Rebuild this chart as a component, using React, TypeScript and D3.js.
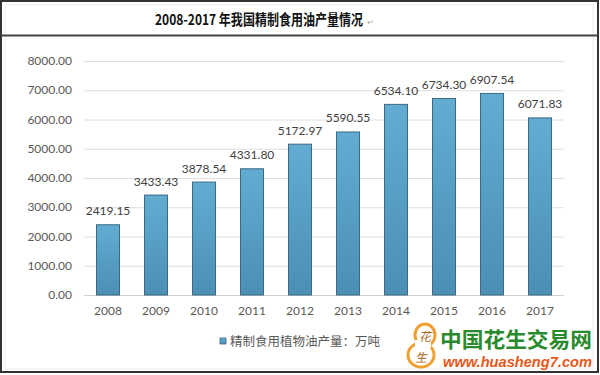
import React from "react";
import { scaleBand, scaleLinear } from "d3";

const years = ["2008", "2009", "2010", "2011", "2012", "2013", "2014", "2015", "2016", "2017"];
const output = [2419.15, 3433.43, 3878.54, 4331.8, 5172.97, 5590.55, 6534.1, 6734.3, 6907.54, 6071.83];
const yTicks = [0, 1000, 2000, 3000, 4000, 5000, 6000, 7000, 8000];
const title = "2008-2017 年我国精制食用油产量情况";
const legendLabel = "精制食用植物油产量：万吨";

const W = 600;
const H = 375;
const latin = "Lato, 'Open Sans', sans-serif";
const cjk = "'Noto Sans CJK SC', 'Noto Sans', sans-serif";

export default function App() {
  const x = scaleBand<string>().domain(years).range([84, 564]).paddingInner(0.5).paddingOuter(0.25);
  const y = scaleLinear().domain([0, 8000]).range([295, 61]);

  return (
    <svg
      width={W}
      height={H}
      style={{ position: "absolute", left: 0, top: 0, background: "#fff" }}
    >
      <defs>
        <linearGradient id="barFill" x1="0" x2="0" y1="0" y2="1">
          <stop offset="0%" stopColor="#62acd2" />
          <stop offset="100%" stopColor="#4b8fb4" />
        </linearGradient>
      </defs>

      {/* frame */}
      <rect x={5} y={5} width={588} height={364} fill="none" stroke="#ececec" />
      <rect x={1} y={1} width={597} height={371} fill="none" stroke="#333" strokeWidth={2} />
      <line x1={1} x2={598} y1={35.5} y2={35.5} stroke="#444" strokeWidth={2} />

      {/* title, with the trailing return mark */}
      <text x={155} y={25} fontFamily={cjk} fontWeight={700} fontSize={14.5} fill="#111">
        <tspan textLength={208} lengthAdjust="spacingAndGlyphs">{title}</tspan>
        <tspan x={367} fontSize={8} fontWeight={400} fill="#aaa">↵</tspan>
      </text>

      {/* grid + y labels */}
      {yTicks.map((t) => (
        <g key={t}>
          <line x1={84} x2={564} y1={y(t) + 0.5} y2={y(t) + 0.5} stroke={t === 0 ? "#d0d0d0" : "#dedede"} />
          <text
            x={72}
            y={y(t)}
            dy="0.35em"
            textAnchor="end"
            fontFamily={latin}
            fontSize={12}
            fill="#595959"
          >
            {t.toFixed(2)}
          </text>
        </g>
      ))}

      {/* bars */}
      {years.map((yr, i) => {
        const v = output[i];
        const bx = x(yr)!;
        return (
          <g key={yr}>
            <rect
              x={bx + 0.5}
              y={y(v) + 0.5}
              width={x.bandwidth() - 1}
              height={y(0) - y(v) - 0.5}
              fill="url(#barFill)"
              stroke="#3a6a85"
              strokeWidth={1}
            />
            <text
              x={bx + x.bandwidth() / 2}
              y={y(v) - 9}
              textAnchor="middle"
              fontFamily={latin}
              fontSize={12}
              fill="#404040"
            >
              {v.toFixed(2)}
            </text>
            <text
              x={bx + x.bandwidth() / 2}
              y={315}
              textAnchor="middle"
              fontFamily={latin}
              fontSize={12}
              fill="#595959"
            >
              {yr}
            </text>
          </g>
        );
      })}

      {/* legend */}
      <rect x={220} y={338} width={6} height={6} fill="url(#barFill)" stroke="#3a6a85" strokeWidth={0.8} />
      <text x={230} y={346} fontFamily={cjk} fontSize={12.5} fill="#595959">
        {legendLabel}
      </text>

      {/* watermark logo */}
      <g>
        <ellipse cx={425} cy={335} rx={10} ry={11} fill="#fff" stroke="#f0a030" strokeWidth={3} />
        <ellipse cx={421} cy={355} rx={13} ry={12} fill="#fff" stroke="#f0a030" strokeWidth={3} />
        <rect x={415} y={340} width={16} height={8} fill="#fff" />
        <text x={425} y={341} textAnchor="middle" fontFamily={cjk} fontSize={12} fill="#b06a20" fontStyle="italic">花</text>
        <text x={421} y={362} textAnchor="middle" fontFamily={cjk} fontSize={12} fill="#b06a20" fontStyle="italic">生</text>
        <text
          x={440}
          y={347}
          textLength={152}
          lengthAdjust="spacingAndGlyphs"
          fontFamily={cjk}
          fontWeight={700}
          fontSize={21}
          fill="#2a8a2e"
        >
          中国花生交易网
        </text>
        <text
          x={443}
          y={367}
          textLength={149}
          lengthAdjust="spacingAndGlyphs"
          fontFamily="'Liberation Sans', Arial, sans-serif"
          fontWeight={700}
          fontStyle="italic"
          fontSize={14.5}
          fill="#e8581a"
        >
          www.huasheng7.com
        </text>
      </g>
    </svg>
  );
}
